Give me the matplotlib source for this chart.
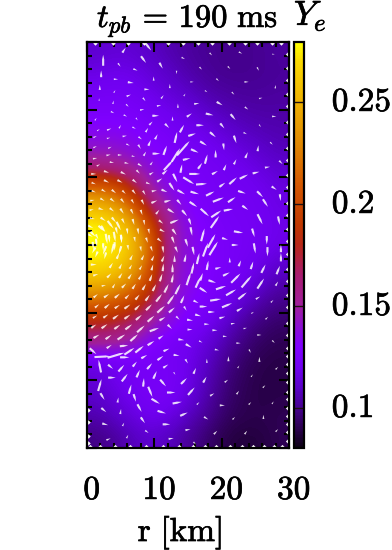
import numpy as np
import matplotlib
matplotlib.use('Agg')
import matplotlib.pyplot as plt
import matplotlib.patheffects as pe
from matplotlib.colors import LinearSegmentedColormap
from matplotlib.transforms import ScaledTranslation

plt.rcParams['mathtext.fontset'] = 'cm'

# Ye field
r_grid = [0, 3, 6, 9, 12, 15, 18, 21, 24, 27, 30]
z_grid = [30, 27, 24, 21, 18, 15, 12, 9, 6, 3, 0, -3, -6, -9, -12, -15, -18, -21, -24, -27, -30]
ye_grid = [
    [.112, .114, .113, .110, .106, .103, .101, .100, .100, .101, .103],
    [.117, .119, .118, .114, .110, .105, .102, .100, .100, .101, .102],
    [.122, .123, .122, .118, .114, .110, .105, .103, .102, .102, .103],
    [.127, .127, .126, .123, .119, .116, .111, .107, .105, .104, .104],
    [.132, .132, .130, .127, .124, .121, .118, .113, .109, .107, .106],
    [.141, .140, .136, .131, .127, .124, .122, .119, .115, .111, .108],
    [.160, .156, .148, .137, .130, .126, .124, .122, .120, .116, .112],
    [.215, .205, .176, .146, .134, .128, .125, .123, .122, .120, .116],
    [.255, .245, .215, .165, .142, .131, .126, .124, .123, .121, .118],
    [.277, .270, .248, .198, .150, .135, .128, .125, .124, .122, .119],
    [.280, .277, .258, .215, .150, .137, .130, .126, .124, .122, .118],
    [.272, .268, .248, .208, .148, .136, .130, .126, .123, .118, .112],
    [.252, .245, .225, .190, .146, .135, .129, .125, .120, .112, .105],
    [.215, .208, .195, .168, .142, .132, .127, .121, .112, .104, .099],
    [.180, .176, .165, .148, .136, .127, .122, .113, .103, .097, .094],
    [.155, .152, .145, .130, .125, .121, .116, .106, .098, .093, .091],
    [.118, .121, .124, .125, .124, .120, .111, .101, .094, .090, .089],
    [.114, .119, .123, .125, .125, .119, .108, .098, .092, .089, .089],
    [.110, .115, .121, .124, .124, .116, .105, .096, .091, .089, .090],
    [.105, .109, .115, .120, .116, .108, .101, .093, .090, .090, .091],
    [.098, .102, .108, .112, .108, .102, .095, .089, .087, .088, .091],
]

# velocity sticks: r, z, dr, dz in km
arrows_top = [
    (2.4, 27.3, 0, 1.3), (5.5, 28.8, .4, .6), (9.1, 29.3, .7, -.9), (4.8, 26.6, .3, -.4), (8.4, 27.4, .6, -.8),
    (11, 26.5, .4, -.7), (14.3, 27.6, .4, -.2), (18.4, 28.2, .3, -.3), (22.8, 28.4, .4, -.2), (27.7, 28.2, .3, 0),
    (2.1, 25.3, 0, .8), (7.2, 25.9, .5, -.2), (13.3, 25.5, 0, -.4), (16.9, 26.1, .3, -.3), (21.1, 26.2, .3, -.3),
    (25.4, 26, .2, -.4), (4.3, 24.5, .5, 0), (6.5, 24, .7, -.1), (9.9, 24.6, 0, .5), (12.3, 23.5, 0, .5),
    (15.6, 24.1, .4, 0), (19.4, 24.4, .3, -.3), (23.7, 24.1, .5, 0), (28, 23.4, .1, .4), (1.9, 23.3, 0, .6),
    (4.1, 22.7, .2, .3), (8.9, 23, .6, 0), (14.5, 22.2, .2, .3), (17.7, 22.7, .3, -.2), (21.7, 22.4, .3, -.3),
    (25.8, 21.7, .4, .1), (1.8, 21.5, 0, .3), (6.2, 22.1, .5, .2), (8.5, 21.5, .3, -.4), (3.9, 21.1, .1, .4),
    (11.2, 21.9, .3, .4), (6, 20.6, .3, -.3), (8.2, 20, .5, .1), (10.7, 20.6, .5, .1), (13.5, 20.6, 0, .5),
    (16.3, 20.9, .6, .1), (19.7, 20.9, .7, -.4), (23.7, 20.2, .4, -.3), (3.8, 19.6, .4, -.2), (1.3, 18.6, .2, .3),
    (5.7, 19.1, .4, -.2), (10.2, 19.1, .8, 0), (15.2, 19.2, .6, .4), (18.2, 19.3, .9, -.2), (21.7, 18.9, .6, -.7),
    (27.8, 19, .5, 0), (7.4, 18.6, .2, -.3), (12.7, 18.7, 0, .5), (3.3, 17.1, .5, .2), (4.9, 17.5, .2, .4),
    (9.5, 18, .4, .4), (1.7, 17, .3, .2), (7, 17.3, .4, -.2), (11.9, 17.6, .5, -.5), (14.1, 17.2, .5, .9),
    (16.8, 17.7, .9, 0), (20.1, 17.6, .5, -.6), (25.7, 17.6, .2, -.3), (8.9, 17, .3, .5), (1.2, 16, .4, .2),
    (3.2, 15.8, .4, .1), (5.6, 16.1, .5, .1), (7.9, 15.8, .4, -.3), (10.3, 16, .3, .6), (13.2, 15.9, .3, 1.3),
    (15.6, 16.3, .9, .3), (18.7, 16.3, .7, -.6), (22, 15.6, .3, -.9), (23.5, 16.5, .4, -.2), (1.2, 14.5, .4, .2),
    (3.4, 14.4, .4, .2), (6.1, 14.8, .4, -.2), (7.8, 14.5, .3, -.5), (9.3, 15.1, .3, .7), (11.6, 14, .4, 1.1),
    (14.3, 14.3, 1.5, 1.7), (17.3, 15, .8, -.5), (20.3, 14.5, .1, -.8), (25.4, 14.3, .1, .7), (27.4, 15, .3, -.3),
    (1.2, 12.8, .5, .1), (3.2, 13.3, .5, .1), (4.9, 13.3, .5, 0), (6.9, 13.1, .4, -.1), (8.6, 13.5, .3, .5),
    (10.3, 13.5, .9, 0), (13.2, 13.3, 1, 1.6), (16, 13.9, .9, -.4), (17.7, 12.7, .3, 1.1), (19.1, 13.5, 0, .9),
    (23.7, 13.3, .3, .7), (28.8, 12.2, .4, -.4), (1.7, 11.8, .4, .2), (3.7, 12.2, .5, -.1), (5.9, 12.1, .5, -.1),
    (7.9, 11.8, .5, -.3), (9.6, 12.1, .3, .4), (12.1, 11.8, 1.1, 1.2), (14.8, 12.7, .9, .2), (16.8, 11.7, .5, .7),
    (20.5, 11.5, .3, .7), (22, 12.3, .3, .6), (26.8, 11.5, .6, .1), (1, 10.5, .6, 0), (2.9, 10.8, .6, -.2),
    (5.4, 10.6, .6, -.3), (7.6, 10.8, .4, -.4), (9.6, 10.6, .5, .3), (11.6, 10.8, .6, .5), (14, 11.3, .2, 1),
    (16, 10.5, 1.3, 0), (19, 10.7, .7, .4), (23.3, 10.1, 1, .5), (25.1, 10.7, .8, .2), (13.1, 9.9, .5, -1),
    (1, 9.1, .5, -.2), (2.9, 9.4, .6, -.3), (4.9, 9.4, .6, -.3), (7.1, 9.4, .5, -.4), (9.1, 9.1, .5, -.2),
    (10.8, 9.6, .6, .4), (12.6, 8.6, .6, -.9), (15.1, 9.5, 1.3, -.8), (17, 9, 1.3, .1), (20.1, 8.9, .7, .5),
    (21.7, 9.5, .9, .8), (27.8, 8.4, .6, -.4),
]
arrows_core = [
    (1, 7.9, .5, -.2), (2.5, 8, .5, -.3), (4, 7.9, .5, -.4), (5.5, 7.8, .4, -.4), (7, 7.8, .4, -.5), (8.5, 7.7, .3, -.5),
    (10, 8, .6, .1), (11.5, 8, .7, -.3), (14, 7.8, .9, -.5), (16, 7.7, 1, -.3), (18.3, 7.6, 1, .5), (23, 7.8, .9, -.3),
    (25.7, 7.5, .7, -.7), (28.7, 7, .1, -.8),
    (.8, 6.6, .5, .1), (2.3, 6.7, .5, -.3), (3.8, 6.6, .5, -.4), (5.3, 6.5, .4, -.5), (6.8, 6.4, .3, -.5), (8.3, 6.3, .3, -.6),
    (10, 6.4, .7, .3), (12, 6.5, .8, .2), (13.7, 6.3, .5, -.6), (15.8, 6, .9, -.6), (19.5, 6.7, 1.3, .5), (21.5, 6.7, .9, .6),
    (26.5, 6.2, .6, -.9),
    (.7, 5.2, .5, .1), (2.1, 5.3, .6, -.2), (3.7, 5.2, .5, -.4), (5.2, 5, .4, -.6), (6.7, 4.9, .3, -.6), (8.1, 4.8, .2, -.6),
    (10.5, 4.9, .4, .5), (12.5, 5, .8, -.5), (14.5, 4.7, .6, -.7), (17.5, 4.8, 1, -.9), (19.2, 4.6, 1.2, .8), (21, 5.2, 1.1, .2),
    (23.5, 5.5, .7, -.5),
    (.8, 3.9, .6, -.1), (2.4, 3.8, .6, -.4), (4, 3.7, .5, -.6), (5.4, 3.5, .3, -.6), (6.9, 3.4, .2, -.7), (8.5, 3.3, .1, -.6),
    (11, 3.4, .5, -.4), (13, 3.5, 1, .4), (15.3, 3.4, .3, -.8), (19, 3.4, 1, 1.4), (25.7, 3.8, .6, -1.2), (28.5, 3.6, .2, -1),
    (.5, 2.7, .7, -.3), (2.4, 2.4, .5, -.7), (4.4, 2.1, .2, -.8), (6, 2, .1, -.7), (7.6, 2, .1, -.7), (9.2, 2, .1, -.6),
    (11.2, 2.1, .6, -.3), (13, 1.9, .5, -.7), (15.5, 2, .2, -1), (17.2, 1.5, .4, 1.5), (22.5, 1.9, 1.1, -.2), (24.7, 1.8, .3, -1),
    (.5, 1.4, .6, -.3), (1.5, 1.2, .3, -.6), (3.3, .9, .1, -.9), (5.1, .9, .1, -.9), (7.1, .8, .1, -.6), (8.9, .7, .2, -.6),
    (10.8, .7, .5, -.4), (12.8, .7, .3, -.8), (14.8, .3, .3, -.9), (18.5, .6, .9, 1.6), (20.5, .9, .7, -.2), (26.7, .7, 0, -1),
    (.9, -.1, .1, -.9), (2.4, -.3, 0, -.9), (4.1, -.2, 0, -1), (6.1, -.4, .1, -.6), (8, -.6, .1, -.6), (9.6, -.6, .2, -.6),
    (11.3, -.7, .1, -.8), (13.3, -.7, .3, -.7), (15.8, -.9, .2, -1), (17.6, -.7, .6, 1.6), (28.8, -.5, 0, .9),
    (1.4, -1.4, -.3, -.7), (2.7, -1.6, -.2, -.8), (4.6, -1.6, .3, .7), (6.6, -1.8, .3, .6), (8.3, -1.8, .3, .6), (9.8, -1.9, .3, .6),
    (11.3, -2, .3, .7), (13, -2, 0, .8), (14.6, -1.9, .2, .9), (16.5, -2, .3, 1.3),
    (1, -2.9, .7, 0), (3.6, -3, .4, .6), (5, -3.1, .3, .6), (6.5, -3.2, .3, .5), (8, -3.3, .3, .5), (9.7, -3.3, .2, .7),
    (11.3, -3.3, .1, .9), (12.7, -3.4, 0, 1), (15.7, -3.4, .3, 1.3), (17.9, -3, .2, 1.1),
    (1.3, -4.4, .6, .2), (3.3, -4.5, .5, .5), (5, -4.5, .4, .6), (6.4, -4.6, .4, .6), (7.9, -4.7, .3, .6), (9.5, -4.8, .3, .8),
    (11, -4.8, .3, .9), (12.7, -4.9, .2, 1), (15.1, -5, .5, 1.5), (16.5, -5.5, .6, 1.3),
    (2.5, -6, .5, .1), (4, -6, .3, .5), (5.5, -6, .5, .5), (7, -6.1, .4, .6), (8.5, -6.2, .4, .7), (10, -6.3, .4, .8),
    (11.8, -6.4, .5, 1), (13.5, -6.5, .6, 1.2),
    (1.3, -7.5, .5, .4), (2.9, -7.5, .6, .4), (4.5, -7.5, .6, .5), (6, -7.6, .5, .5), (7.5, -7.7, .5, .6), (9, -7.8, .5, .7),
    (10.7, -7.8, .7, .9), (12.5, -8, .8, 1.1), (14.2, -8, .4, .9),
    (1.5, -9, .5, .4), (3, -9, .6, .5), (4.5, -9.1, .6, .4), (6, -9.1, .7, .5), (7.5, -9.2, .6, .6), (9.2, -9.2, .7, .7),
    (11, -9.5, .9, .8), (12.6, -9.6, .7, .6),
    (1.2, -10.6, .5, .3), (2.8, -10.5, .6, .4), (4.3, -10.6, .7, .5), (6, -10.6, .7, .5), (7.7, -10.7, .7, .6), (9.5, -10.9, .8, .7),
    (11.2, -10.9, .7, .4),
    (1, -12, .6, .4), (2.6, -12, .7, .5), (4.5, -12.1, .7, .5), (6.2, -12.1, .8, .6), (8, -12.4, .9, .8), (10, -12.5, 1.1, .4),
    (1.4, -13.5, .7, .4), (3.2, -13.6, .7, .5), (5.1, -13.6, .9, .6), (7, -13.7, .9, .8),
    (3.3, -15, .6, .4), (5.5, -14.9, 1, .1), (7.8, -15.4, 1, .8),
    (1.9, -17.9, -.3, 1.5), (2.3, -16.5, 1.9, .1), (4.3, -16.3, 2, .6), (6.3, -15.7, 1.2, .8), (.9, -15.7, .8, -.7),
]
arrows_bottom = [
    (18.8, -.5, 1, 1.6), (22, 0, .8, 0), (24.9, -.5, .2, -1.2), (26.8, -1, 0, -1.1), (28.8, -1.8, 0, 1), (21.2, -2.2, 0, .6),
    (22.7, -2.7, .3, .7), (24.5, -3, .3, .9), (26.2, -3.5, .5, 1), (28.4, -3.7, .4, 1), (19.5, -3.4, .7, .2), (17, -4.7, .3, .9),
    (20.7, -4.3, .8, .4), (22.1, -4.9, 1.1, 1.1), (23.7, -5.4, 1.2, 1.4), (25.8, -5.7, .8, 1.2), (28.2, -5.7, .3, .5), (18.6, -5.4, .9, -.3),
    (17.3, -6.7, .9, -.6), (19.9, -6.3, 1.2, .4), (21.4, -7, 1.2, .7), (23.1, -7.5, 1, .8), (25.4, -7.8, .5, .3), (27.5, -8.3, .3, .3),
    (19.1, -8.1, 1.3, .2), (16.2, -8.4, .6, -.3), (20.8, -8.9, 1.2, .5), (14.6, -9.4, .3, -.5), (17.3, -9.1, .9, 0), (22.7, -9.5, .7, .4),
    (24.6, -10, .3, .2), (26.7, -10.8, .3, .3), (16.5, -10.4, .7, -.2), (18.5, -9.9, .8, 0), (20.1, -10.7, .7, .2), (13.5, -10.8, .4, -.4),
    (21.7, -11.6, .5, .1), (15.3, -11.1, .7, -.1), (17.8, -11.7, .6, 0), (23.5, -12.3, .4, .1), (12.3, -12.1, .5, -.5), (15.3, -12.5, .6, 0),
    (19, -12.6, .6, 0), (25.6, -13.3, .5, 0), (11, -13.6, .6, .4), (14, -14, .7, -.1), (16.9, -14.3, .4, -.2), (20.5, -13.5, .5, 0),
    (22.5, -14.5, .5, 0), (27.7, -14.3, .3, -.3), (9.5, -14.5, .8, .5), (15.1, -14.9, .7, -.4), (24.2, -15.7, .2, -.4), (19.3, -15.5, .5, -.1),
    (11.8, -15.5, .7, .3), (13.3, -16.3, .7, -.1), (25.6, -16.9, 0, .6), (21, -16.8, 0, .6), (5.6, -16.6, 1.1, 0), (8.5, -16.5, .7, .4),
    (10.9, -16.7, .7, .5), (14.8, -17.2, .3, -.5), (17.8, -17.1, 0, .5), (3.5, -18, .6, -.5), (5.1, -18.2, .7, .8), (7.1, -17.6, .5, .6),
    (9.3, -17.9, .6, .7), (11.7, -17.9, .6, .4), (16, -18.6, .3, .7), (22.5, -18, .2, .3), (28.2, -18.2, .3, .3), (3.7, -19.6, .9, 0),
    (5.6, -19.6, .7, .9), (7.6, -19, .4, .9), (10.1, -19.2, .4, .9), (13, -19, .2, -.3), (14.4, -20.1, .7, .7), (17.5, -19.9, .4, .7),
    (20.7, -20.1, .4, .3), (24.5, -19.3, .2, .3), (1.9, -20.7, .4, 1.4), (6.4, -21.3, .3, 1.1), (8.4, -20.3, .1, 1), (11.3, -20.4, .7, -.8),
    (2.3, -22.4, .5, -.8), (4.6, -22.9, .1, .6), (9.4, -21.7, .5, -1.2), (12.5, -21.8, 1, 0), (15.5, -21.6, .8, .9), (18.6, -22.1, .5, .3),
    (22.4, -21.8, .3, .4), (26.3, -20.9, .3, .3), (7.1, -22.6, .3, -.9), (10.2, -23.1, 1, -.6), (13.4, -23.3, 1.1, .2), (16.5, -23.4, .3, .3),
    (20.1, -23.7, .6, 0), (24.2, -23.4, .3, .3), (27.6, -23.3, .2, .3), (2.5, -24.4, .6, -.5), (5, -24.6, .1, .6), (7.8, -24.1, .5, -.9),
    (11.1, -24.7, 1, -.3), (14.4, -25, .9, .4), (17.7, -25.6, .5, -.3), (21.8, -25.6, .3, .3), (26.2, -25.4, 0, .5), (2.7, -26.5, .7, -.2),
    (5.4, -26.5, .2, .4), (8.3, -25.9, .5, -.7), (11.8, -26.5, .9, 0), (15, -27.3, .6, .1), (19.1, -27.7, .4, .4), (23.6, -27.7, .3, .4),
    (28.2, -27.4, .3, .3), (3.2, -28.7, .5, .2), (6, -28.3, .2, .4), (8.9, -27.6, .4, -.3), (12.5, -28.6, .6, .1), (16, -29.3, .3, -.3),
]
# long arcs around the centre of the core
arrows_arcs = [
    (.9, 1.6, .6, -.6), (1.4, .3, .1, -1), (1, -.8, -.4, -.7), (2.2, 2.4, .8, -.7), (2.9, .9, .2, -1.2), (2.6, -.8, -.4, -1),
    (3.5, 3, .7, -.9), (4.1, 1.2, .2, -1.2), (3.8, -.6, -.3, -1.2), (4.7, 2.8, .5, -1), (5.1, .9, .1, -1), (4.9, -.8, -.3, -1),
]

specks_right = [28.3, 26.1, 24.4, 22.3, 20.6, 18.2, 16.4, 14.3, 12.5, 10.4, 8.5, 6.2, 4.4, 2.3, .6, -1.4, -3.6, -5.3, -7.4, -9.2,
                -11.5, -13.3, -15.2, -16.4, -17.6, -18.9, -20.3, -21.7, -22.8, -24.1, -25.3, -26.4, -27.7, -28.9]
specks_top = [1.2, 3.8, 6.1, 8.4, 12, 14.2, 16.5, 18.6, 21.1, 23.4, 25.2, 27.5, 28.8]
specks_bottom = [.5, 1.9, 4.2, 6.4, 8.8, 11.3, 13.7, 15.8, 17.5, 19.2, 21.3, 23, 24.7, 26.3, 27.8, 28.9]
specks_left = [-24.4, -26.1, -28.2, -29.2]

cb_ticks = [0.1, 0.15, 0.2, 0.25]
cb_labels = ['$0.1$', '$0.15$', '$0.2$', '$0.25$']
r_ticks = [0, 10, 20, 30]
r_labels = ['$0$', '$10$', '$20$', '$30$']

ye_min = 0.0804
ye_max = 0.2794
cmap_values = [.0804, .09, .10, .11, .12, .13, .14, .15, .165, .18, .19, .21, .23, .25, .27, .2794]
cmap_colors = ['#0c0014', '#2c0050', '#460090', '#5a00c8', '#7000f0', '#8000ff', '#8c10d0', '#a01f9c', '#a81c70',
               '#b82818', '#c03800', '#d45800', '#e08800', '#eeb000', '#fad800', '#ffff00']
stops = [(v - ye_min) / (ye_max - ye_min) for v in cmap_values]
ye_cmap = LinearSegmentedColormap.from_list('ye', list(zip(stops, cmap_colors)))

W, H = 392, 550
fig = plt.figure(figsize=(W / 100, H / 100), dpi=100)
ax = fig.add_axes([87 / W, 1 - 448 / H, 202 / W, 406 / H])
cax = fig.add_axes([294 / W, 1 - 448 / H, 10 / W, 406 / H])

im = ax.imshow(np.array(ye_grid), extent=[r_grid[0], r_grid[-1], z_grid[-1], z_grid[0]], aspect='auto',
               interpolation='bicubic', cmap=ye_cmap, vmin=ye_min, vmax=ye_max, origin='upper')

sticks = np.array(arrows_top + arrows_core + arrows_bottom + arrows_arcs)
ax.quiver(sticks[:, 0], sticks[:, 1], sticks[:, 2], sticks[:, 3], angles='xy', scale_units='xy', scale=0.8,
          color='white', alpha=0.85, width=0.0105, headwidth=1.1, headlength=2.5, headaxislength=2.5,
          pivot='mid', zorder=3)

# jagged white edge of the data domain
ax.scatter([29.85] * len(specks_right), specks_right, s=7, c='white', marker='D', linewidths=0, zorder=2)
ax.scatter(specks_top, [29.85] * len(specks_top), s=5, c='white', marker='D', linewidths=0, zorder=2)
ax.scatter(specks_bottom, [-29.8] * len(specks_bottom), s=7, c='white', marker='D', linewidths=0, zorder=2)
ax.scatter([.15] * len(specks_left), specks_left, s=5, c='white', marker='D', linewidths=0, zorder=2)

# latex-looking text is heavier than plain mathtext
heavy = [pe.withStroke(linewidth=0.5, foreground='black')]

ax.set_xlim(0, 30)
ax.set_ylim(-30, 30)
ax.set_xticks(r_ticks)
ax.set_xticklabels(r_labels, fontsize=24, path_effects=heavy)
ax.set_xticks(np.arange(0, 31, 2), minor=True)
ax.set_yticks([-30, -20, -10, 0, 10, 20, 30])
ax.set_yticks(np.arange(-30, 31, 2), minor=True)
ax.set_yticklabels([])
ax.tick_params(which='major', direction='in', length=7, width=1.5, top=True, right=True, pad=18, zorder=5)
ax.tick_params(which='minor', direction='in', length=3.5, width=1.5, top=True, right=True, zorder=5)
for lab in ax.get_xticklabels():
    lab.set_transform(lab.get_transform() + ScaledTranslation(5 / 100, 0, fig.dpi_scale_trans))
for sp in ax.spines.values():
    sp.set_linewidth(1.6)
    sp.set_zorder(6)

cb = fig.colorbar(im, cax=cax)
cb.set_ticks(cb_ticks)
cb.set_ticklabels(cb_labels, fontsize=24, path_effects=heavy)
cb.ax.tick_params(which='major', direction='in', length=7.5, width=1, pad=20, color='#201010')
cb.ax.minorticks_off()
cb.outline.set_linewidth(1.6)
for lab in cb.ax.get_yticklabels():
    lab.set_transform(lab.get_transform() + ScaledTranslation(0, 4 / 100, fig.dpi_scale_trans))

fig.text(97 / W, 1 - 27 / H, r'$t_{pb}\,=\,190\ \mathrm{ms}$', fontsize=23.5, ha='left', va='baseline', path_effects=heavy)
fig.text(294 / W, 1 - 25 / H, r'$Y_e$', fontsize=25, ha='left', va='baseline', path_effects=heavy)
fig.text(180 / W, 1 - 541 / H, r'$\mathrm{r\ [km]}$', fontsize=24, ha='center', va='baseline', path_effects=heavy)

fig.savefig('out.png', dpi=100)
